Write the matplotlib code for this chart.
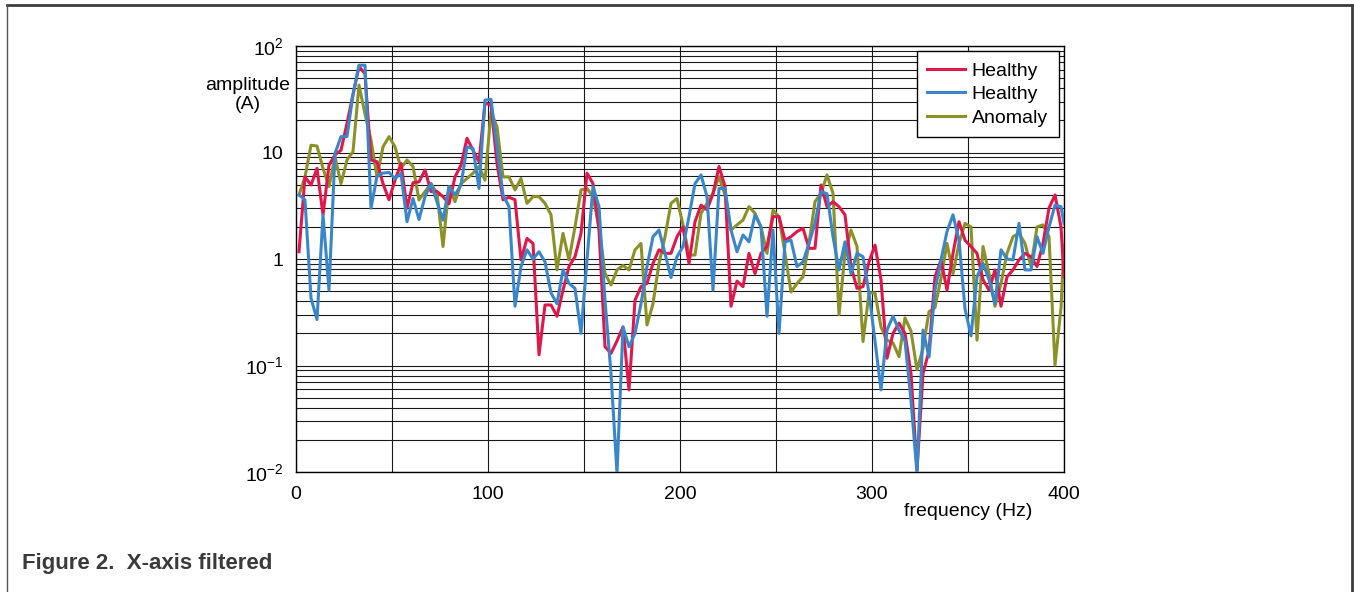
import numpy as np
import matplotlib
matplotlib.use('Agg')
import matplotlib.pyplot as plt
from matplotlib.lines import Line2D
from matplotlib.ticker import FixedLocator, FixedFormatter, LogLocator, NullFormatter

plt.rcParams['font.family'] = ['Liberation Sans', 'DejaVu Sans']
plt.rcParams['mathtext.fontset'] = 'custom'
plt.rcParams['mathtext.rm'] = 'Liberation Sans'
plt.rcParams['mathtext.it'] = 'Liberation Sans:italic'

# FFT bins (3.125 Hz spacing), last point at the 400 Hz edge
freq = np.append(1.5625 + 3.125 * np.arange(128), 400.0)

healthy_1 = [1.17, 5.9, 4.95, 7.1, 2.6, 7.6, 9.5, 10.5, 18.8, 35,
             64, 55, 8.5, 8.2, 5.1, 3.6, 5.5, 7.9, 3.0, 5.2,
             5.3, 6.85, 4.3, 4.3, 3.85, 3.3, 5.9, 7.6, 13.6, 10.5,
             8.2, 29, 28, 7.9, 3.6, 3.8, 3.6, 0.98, 1.56, 1.4,
             0.126, 0.37, 0.37, 0.29, 0.51, 0.85, 1.05, 1.74, 6.4, 5.1,
             1.87, 0.15, 0.13, 0.17, 0.23, 0.059, 0.41, 0.55, 0.59, 0.91,
             1.22, 1.13, 1.13, 1.62, 2.0, 0.91, 2.24, 3.2, 2.9, 4.1,
             7.4, 4.8, 0.36, 0.62, 0.55, 1.13, 0.73, 1.13, 1.31, 2.5,
             2.5, 1.5, 1.62, 1.81, 1.94, 1.26, 1.26, 4.95, 3.1, 3.45,
             3.1, 2.6, 0.85, 0.53, 0.55, 0.94, 1.35, 0.64, 0.117, 0.2,
             0.25, 0.2, 0.084, 0.0104, 0.084, 0.137, 0.68, 0.98, 0.51, 1.13,
             2.24, 1.5, 1.31, 1.13, 0.64, 0.51, 0.79, 0.36, 0.68, 0.79,
             0.98, 1.13, 1.05, 0.85, 1.4, 3.0, 4.0, 2.0,
             0.68]

healthy_2 = [4.0, 3.58, 0.43, 0.27, 2.6, 0.51, 9.8, 14.1, 14.1, 35,
             66, 66, 3.0, 6.0, 6.4, 6.5, 5.7, 6.4, 2.24, 3.7,
             2.35, 3.85, 5.1, 3.45, 2.32, 4.8, 4.0, 4.95, 11.3, 10.9,
             4.6, 31, 31.6, 11.3, 4.0, 3.1, 0.36, 0.85, 1.22, 1.0,
             1.17, 0.94, 0.48, 0.38, 0.79, 0.59, 0.53, 0.2, 0.98, 4.8,
             3.1, 0.41, 0.084, 0.0097, 0.23, 0.15, 0.2, 0.38, 0.85, 1.62,
             1.87, 1.13, 0.67, 1.05, 1.31, 2.5, 5.1, 6.15, 3.85, 0.51,
             4.6, 4.6, 1.87, 1.17, 1.68, 1.45, 2.6, 2.0, 0.29, 1.87,
             0.2, 1.45, 1.5, 0.85, 0.94, 1.4, 2.16, 4.3, 4.1, 1.62,
             0.79, 1.45, 0.73, 1.13, 1.05, 0.48, 0.17, 0.059, 0.215, 0.29,
             0.215, 0.17, 0.047, 0.0097, 0.215, 0.12, 0.51, 0.98, 1.81, 2.6,
             1.5, 0.34, 0.19, 0.68, 0.91, 0.64, 0.38, 1.22, 1.0, 0.98,
             2.16, 0.79, 0.79, 1.62, 1.13, 2.0, 3.2, 3.1,
             2.16]

anomaly = [4.0, 5.9, 11.7, 11.5, 7.1, 4.8, 9.15, 5.1, 8.5, 10.2,
           43, 23, 13.1, 5.9, 11.3, 14.1, 11.3, 7.1, 8.5, 7.4,
           3.58, 4.3, 5.1, 4.14, 1.31, 4.78, 3.45, 5.1, 5.7, 6.4,
           7.4, 5.5, 24, 17.5, 5.9, 5.9, 4.45, 5.7, 3.33, 3.85,
           3.85, 3.33, 2.6, 0.79, 1.74, 0.98, 2.0, 4.45, 4.6, 3.85,
           2.0, 0.73, 0.57, 0.79, 0.87, 0.79, 1.22, 1.4, 0.24, 0.38,
           0.91, 1.62, 3.33, 3.7, 2.09, 1.09, 1.09, 2.68, 3.33, 4.14,
           5.93, 4.0, 1.87, 2.09, 2.32, 3.1, 2.68, 2.0, 1.13, 2.88,
           2.49, 1.13, 0.49, 0.59, 0.68, 1.4, 3.45, 4.14, 6.15, 4.14,
           0.30, 1.13, 1.87, 1.31, 0.168, 0.48, 0.48, 0.23, 0.173, 0.163,
           0.121, 0.28, 0.21, 0.091, 0.145, 0.32, 0.35, 0.66, 1.4, 0.73,
           1.4, 2.16, 2.0, 0.173, 1.31, 0.73, 0.36, 0.59, 1.13, 1.62,
           1.74, 1.4, 0.85, 2.0, 2.09, 1.62, 0.101, 0.35,
           1.35]

xticks = [0, 100, 200, 300, 400]
yticks = [0.01, 0.1, 1, 10, 100]
ytick_labels = [r'$10^{-2}$', r'$10^{-1}$', '1', '10', r'$10^{2}$']

W, H = 1354, 592
fig = plt.figure(figsize=(W / 100, H / 100), dpi=100)
ax = fig.add_axes([296 / W, 1 - 472 / H, 768 / W, 426 / H])

ax.plot(freq, anomaly, color='#8b9127', lw=2.2, label='Anomaly', zorder=3)
ax.plot(freq, healthy_1, color='#e0174a', lw=2.2, label='Healthy', zorder=4)
ax.plot(freq, healthy_2, color='#3a86cb', lw=2.2, label='Healthy', zorder=5)

ax.set_yscale('log')
ax.set_xlim(0, 400)
ax.set_ylim(0.01, 100)

ax.xaxis.set_major_locator(FixedLocator(xticks))
ax.xaxis.set_minor_locator(FixedLocator([50, 150, 250, 350]))
ax.yaxis.set_major_locator(FixedLocator(yticks))
ax.yaxis.set_major_formatter(FixedFormatter(ytick_labels))
ax.yaxis.set_minor_locator(LogLocator(base=10, subs=np.arange(2, 10)))
ax.yaxis.set_minor_formatter(NullFormatter())

ax.grid(True, which='both', color='#1a1a1a', lw=0.8, zorder=1)
ax.set_axisbelow(True)
ax.tick_params(which='both', length=0, labelsize=14, colors='black')
ax.tick_params(axis='y', pad=9)
ax.tick_params(axis='x', pad=10)
for s in ax.spines.values():
    s.set_color('black')
    s.set_linewidth(1.0)

h, l = ax.get_legend_handles_labels()
leg = ax.legend([h[1], h[2], h[0]], [l[1], l[2], l[0]], loc='upper right',
                fontsize=14, frameon=True, fancybox=False, edgecolor='black',
                framealpha=1, handlelength=1.95, labelspacing=0.3,
                borderaxespad=0.28, borderpad=0.55, handletextpad=0.33)
leg.get_frame().set_linewidth(1.0)

fig.text(248 / W, 1 - 95 / H, 'amplitude\n(A)', ha='center', va='center',
         fontsize=14, linespacing=1.1)
fig.text(968 / W, 1 - 511 / H, 'frequency (Hz)', ha='center', va='center',
         fontsize=14)
fig.text(22 / W, 1 - 563 / H, 'Figure 2.  X-axis filtered', ha='left',
         va='center', fontsize=16, fontweight='bold', color='#3a3a3a')

# page frame lines
fig.add_artist(Line2D([7 / W, 1352 / W], [1 - 5 / H, 1 - 5 / H],
                      color='#3c3c3c', lw=2.0, transform=fig.transFigure))
fig.add_artist(Line2D([7 / W, 7 / W], [0, 1 - 5 / H],
                      color='#555555', lw=1.0, transform=fig.transFigure))
fig.add_artist(Line2D([1352 / W, 1352 / W], [0, 1 - 5 / H],
                      color='#3c3c3c', lw=2.0, transform=fig.transFigure))

fig.savefig('out.png', dpi=100)
